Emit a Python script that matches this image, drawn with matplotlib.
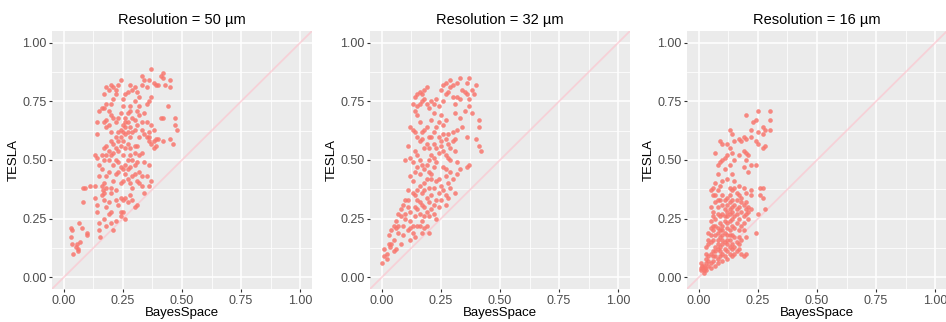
import matplotlib
matplotlib.use("Agg")
import matplotlib.pyplot as plt
import numpy as np

plt.rcParams["font.family"] = ["Liberation Sans", "DejaVu Sans"]

titles = ["Resolution = 50 µm", "Resolution = 32 µm", "Resolution = 16 µm"]
tick_vals = [0.0, 0.25, 0.5, 0.75, 1.0]
tick_labels = ["0.00", "0.25", "0.50", "0.75", "1.00"]

# (BayesSpace, TESLA) pairs
pts_50 = [
    (0.03, 0.21), (0.035, 0.20), (0.03, 0.17), (0.035, 0.14), (0.04, 0.10), (0.05, 0.13),
    (0.055, 0.14), (0.06, 0.12), (0.06, 0.11), (0.07, 0.15), (0.065, 0.23), (0.075, 0.21),
    (0.10, 0.19), (0.10, 0.18), (0.08, 0.32), (0.08, 0.38), (0.09, 0.38), (0.11, 0.39),
    (0.13, 0.39), (0.13, 0.52), (0.14, 0.51), (0.13, 0.34), (0.14, 0.31), (0.14, 0.28),
    (0.15, 0.23), (0.15, 0.20), (0.155, 0.17), (0.16, 0.35), (0.165, 0.37), (0.17, 0.36),
    (0.17, 0.33), (0.18, 0.30), (0.17, 0.25), (0.18, 0.22), (0.19, 0.27), (0.20, 0.23),
    (0.20, 0.28), (0.21, 0.20), (0.19, 0.32), (0.20, 0.36), (0.20, 0.38), (0.22, 0.37),
    (0.21, 0.41), (0.22, 0.44), (0.23, 0.45), (0.22, 0.33), (0.23, 0.31), (0.24, 0.34),
    (0.24, 0.28), (0.25, 0.33), (0.26, 0.34), (0.27, 0.32), (0.28, 0.35), (0.29, 0.38),
    (0.29, 0.33), (0.30, 0.30), (0.31, 0.31), (0.33, 0.39), (0.34, 0.36), (0.36, 0.39),
    (0.35, 0.43), (0.37, 0.41), (0.36, 0.48), (0.34, 0.49), (0.31, 0.56), (0.30, 0.53),
    (0.28, 0.55), (0.27, 0.50), (0.26, 0.48), (0.25, 0.46), (0.26, 0.44), (0.27, 0.42),
    (0.28, 0.40), (0.25, 0.41), (0.24, 0.40), (0.29, 0.43), (0.30, 0.44), (0.32, 0.45),
    (0.33, 0.43), (0.14, 0.61), (0.14, 0.66), (0.15, 0.71), (0.16, 0.72), (0.17, 0.72),
    (0.18, 0.74), (0.17, 0.78), (0.18, 0.81), (0.19, 0.80), (0.20, 0.82), (0.21, 0.81),
    (0.22, 0.80), (0.23, 0.82), (0.24, 0.84), (0.22, 0.78), (0.21, 0.76), (0.20, 0.74),
    (0.19, 0.71), (0.20, 0.69), (0.18, 0.67), (0.17, 0.66), (0.18, 0.64), (0.19, 0.65),
    (0.20, 0.62), (0.20, 0.58), (0.18, 0.56), (0.17, 0.55), (0.16, 0.52), (0.15, 0.48),
    (0.16, 0.46), (0.17, 0.50), (0.18, 0.52), (0.19, 0.54), (0.21, 0.57), (0.22, 0.55),
    (0.22, 0.60), (0.23, 0.62), (0.24, 0.63), (0.25, 0.62), (0.26, 0.61), (0.26, 0.64),
    (0.27, 0.62), (0.28, 0.60), (0.25, 0.58), (0.24, 0.56), (0.23, 0.54), (0.25, 0.52),
    (0.26, 0.55), (0.27, 0.57), (0.28, 0.52), (0.29, 0.50), (0.30, 0.56), (0.30, 0.63),
    (0.31, 0.65), (0.30, 0.67), (0.29, 0.68), (0.32, 0.69), (0.31, 0.71), (0.28, 0.71),
    (0.28, 0.73), (0.26, 0.78), (0.27, 0.79), (0.28, 0.82), (0.29, 0.80), (0.30, 0.81),
    (0.31, 0.79), (0.32, 0.77), (0.33, 0.82), (0.33, 0.86), (0.34, 0.84), (0.35, 0.81),
    (0.36, 0.84), (0.37, 0.89), (0.36, 0.75), (0.37, 0.77), (0.35, 0.74), (0.38, 0.83),
    (0.39, 0.82), (0.40, 0.82), (0.41, 0.86), (0.42, 0.87), (0.42, 0.85), (0.43, 0.82),
    (0.45, 0.84), (0.45, 0.81), (0.44, 0.73), (0.42, 0.68), (0.41, 0.68), (0.38, 0.63),
    (0.37, 0.65), (0.36, 0.62), (0.35, 0.60), (0.34, 0.61), (0.33, 0.63), (0.33, 0.66),
    (0.32, 0.60), (0.36, 0.58), (0.37, 0.57), (0.38, 0.58), (0.39, 0.59), (0.40, 0.59),
    (0.42, 0.58), (0.39, 0.56), (0.38, 0.55), (0.46, 0.57), (0.45, 0.59), (0.47, 0.68),
    (0.47, 0.65), (0.48, 0.63), (0.25, 0.73), (0.25, 0.76), (0.24, 0.70), (0.23, 0.68),
    (0.22, 0.66), (0.21, 0.68), (0.26, 0.68), (0.27, 0.70), (0.30, 0.75), (0.32, 0.73),
    (0.34, 0.70), (0.35, 0.66), (0.36, 0.60), (0.30, 0.48), (0.31, 0.49), (0.32, 0.52),
    (0.33, 0.53), (0.31, 0.41), (0.32, 0.40), (0.21, 0.48), (0.22, 0.50), (0.23, 0.49),
    (0.24, 0.47), (0.27, 0.46), (0.28, 0.47), (0.16, 0.39), (0.17, 0.40), (0.18, 0.43),
    (0.19, 0.45), (0.18, 0.38), (0.15, 0.43), (0.24, 0.26), (0.25, 0.28), (0.26, 0.25),
    (0.22, 0.24), (0.19, 0.50), (0.20, 0.52), (0.21, 0.53), (0.28, 0.64), (0.29, 0.62),
    (0.23, 0.58), (0.24, 0.60), (0.25, 0.65), (0.26, 0.66), (0.27, 0.66),
]

pts_32 = [
    (0.00, 0.06), (0.01, 0.09), (0.01, 0.12), (0.02, 0.10), (0.02, 0.08), (0.03, 0.14),
    (0.035, 0.13), (0.04, 0.14), (0.05, 0.11), (0.05, 0.16), (0.06, 0.21), (0.07, 0.19),
    (0.06, 0.12), (0.08, 0.14), (0.09, 0.18), (0.09, 0.22), (0.10, 0.25), (0.10, 0.27),
    (0.08, 0.26), (0.07, 0.27), (0.11, 0.30), (0.10, 0.33), (0.12, 0.28), (0.12, 0.24),
    (0.13, 0.22), (0.13, 0.19), (0.12, 0.16), (0.14, 0.26), (0.14, 0.30), (0.15, 0.33),
    (0.15, 0.29), (0.16, 0.27), (0.16, 0.22), (0.17, 0.24), (0.17, 0.19), (0.18, 0.26),
    (0.18, 0.30), (0.19, 0.28), (0.20, 0.26), (0.21, 0.29), (0.20, 0.32), (0.22, 0.31),
    (0.23, 0.33), (0.24, 0.30), (0.19, 0.34), (0.17, 0.36), (0.16, 0.39), (0.18, 0.40),
    (0.20, 0.38), (0.21, 0.42), (0.22, 0.38), (0.24, 0.36), (0.25, 0.39), (0.26, 0.37),
    (0.28, 0.40), (0.27, 0.43), (0.29, 0.45), (0.30, 0.42), (0.32, 0.44), (0.33, 0.46),
    (0.28, 0.34), (0.20, 0.19), (0.13, 0.41), (0.12, 0.43), (0.11, 0.37), (0.13, 0.36),
    (0.14, 0.45), (0.15, 0.47), (0.13, 0.49), (0.12, 0.51), (0.14, 0.54), (0.15, 0.52),
    (0.16, 0.50), (0.17, 0.48), (0.18, 0.46), (0.19, 0.48), (0.20, 0.50), (0.21, 0.52),
    (0.22, 0.51), (0.20, 0.55), (0.19, 0.57), (0.18, 0.55), (0.17, 0.59), (0.16, 0.58),
    (0.15, 0.60), (0.14, 0.62), (0.13, 0.63), (0.12, 0.64), (0.11, 0.56), (0.10, 0.50),
    (0.16, 0.44), (0.22, 0.47), (0.23, 0.49), (0.24, 0.53), (0.25, 0.56), (0.26, 0.54),
    (0.27, 0.52), (0.28, 0.51), (0.29, 0.55), (0.30, 0.58), (0.31, 0.54), (0.32, 0.49),
    (0.29, 0.50), (0.21, 0.60), (0.22, 0.62), (0.23, 0.64), (0.24, 0.60), (0.25, 0.58),
    (0.27, 0.59), (0.28, 0.61), (0.30, 0.62), (0.32, 0.63), (0.34, 0.64), (0.36, 0.60),
    (0.40, 0.59), (0.41, 0.56), (0.42, 0.54), (0.37, 0.48), (0.36, 0.47), (0.41, 0.67),
    (0.41, 0.64), (0.27, 0.67), (0.25, 0.69), (0.22, 0.70), (0.21, 0.67), (0.20, 0.72),
    (0.19, 0.74), (0.18, 0.76), (0.17, 0.75), (0.16, 0.74), (0.15, 0.73), (0.14, 0.71),
    (0.13, 0.74), (0.14, 0.77), (0.15, 0.78), (0.16, 0.79), (0.17, 0.78), (0.18, 0.80),
    (0.19, 0.81), (0.15, 0.69), (0.16, 0.66), (0.21, 0.75), (0.22, 0.74), (0.23, 0.76),
    (0.24, 0.73), (0.26, 0.75), (0.27, 0.78), (0.28, 0.79), (0.29, 0.81), (0.30, 0.77),
    (0.31, 0.74), (0.32, 0.77), (0.33, 0.76), (0.34, 0.80), (0.35, 0.79), (0.36, 0.78),
    (0.37, 0.76), (0.38, 0.80), (0.39, 0.78), (0.40, 0.82), (0.36, 0.83), (0.37, 0.85),
    (0.33, 0.85), (0.32, 0.83), (0.30, 0.82), (0.29, 0.84), (0.27, 0.83), (0.26, 0.82),
    (0.25, 0.80), (0.31, 0.70), (0.33, 0.68), (0.35, 0.71), (0.37, 0.73), (0.38, 0.70),
    (0.26, 0.65), (0.24, 0.66), (0.19, 0.64), (0.18, 0.63), (0.17, 0.62), (0.20, 0.45),
    (0.21, 0.44), (0.23, 0.41), (0.24, 0.42), (0.26, 0.47), (0.27, 0.46), (0.19, 0.42),
    (0.18, 0.37), (0.15, 0.37), (0.14, 0.35), (0.11, 0.33), (0.09, 0.31), (0.08, 0.29),
    (0.06, 0.24), (0.05, 0.22), (0.04, 0.20), (0.03, 0.18), (0.07, 0.22), (0.11, 0.20),
    (0.12, 0.21), (0.14, 0.17), (0.15, 0.22), (0.16, 0.32), (0.17, 0.31), (0.22, 0.27),
    (0.23, 0.25), (0.19, 0.22), (0.18, 0.21), (0.27, 0.35), (0.29, 0.38), (0.31, 0.36),
    (0.27, 0.31), (0.25, 0.33), (0.21, 0.35), (0.22, 0.57), (0.23, 0.55), (0.20, 0.60),
    (0.26, 0.61), (0.28, 0.57), (0.31, 0.59),
]

pts_16 = [
    (0.25, 0.71), (0.30, 0.71), (0.20, 0.69), (0.23, 0.66), (0.24, 0.67), (0.30, 0.67),
    (0.27, 0.64), (0.28, 0.63), (0.30, 0.63), (0.25, 0.62), (0.27, 0.61), (0.22, 0.63),
    (0.13, 0.63), (0.14, 0.61), (0.15, 0.58), (0.12, 0.57), (0.09, 0.58), (0.10, 0.57),
    (0.17, 0.59), (0.19, 0.60), (0.18, 0.58), (0.20, 0.59), (0.22, 0.60), (0.24, 0.58),
    (0.25, 0.57), (0.27, 0.55), (0.28, 0.56), (0.13, 0.55), (0.14, 0.53), (0.12, 0.52),
    (0.11, 0.51), (0.10, 0.50), (0.09, 0.49), (0.08, 0.48), (0.07, 0.53), (0.11, 0.46),
    (0.13, 0.48), (0.15, 0.50), (0.17, 0.52), (0.19, 0.54), (0.20, 0.53), (0.21, 0.52),
    (0.20, 0.50), (0.19, 0.47), (0.22, 0.48), (0.24, 0.48), (0.21, 0.45), (0.14, 0.44),
    (0.12, 0.42), (0.08, 0.44), (0.07, 0.40), (0.06, 0.38), (0.05, 0.37), (0.06, 0.35),
    (0.08, 0.37), (0.09, 0.39), (0.10, 0.41), (0.13, 0.38), (0.14, 0.37), (0.15, 0.38),
    (0.16, 0.36), (0.17, 0.39), (0.15, 0.41), (0.19, 0.38), (0.20, 0.36), (0.22, 0.37),
    (0.22, 0.35), (0.26, 0.38), (0.27, 0.38), (0.26, 0.35), (0.27, 0.34), (0.28, 0.29),
    (0.25, 0.27), (0.24, 0.19), (0.20, 0.17), (0.05, 0.30), (0.06, 0.28), (0.07, 0.32),
    (0.08, 0.30), (0.09, 0.33), (0.10, 0.31), (0.11, 0.33), (0.12, 0.31), (0.13, 0.32),
    (0.14, 0.30), (0.15, 0.31), (0.16, 0.33), (0.17, 0.30), (0.18, 0.32), (0.19, 0.31),
    (0.20, 0.32), (0.21, 0.30), (0.22, 0.29), (0.11, 0.29), (0.12, 0.28), (0.13, 0.27),
    (0.14, 0.28), (0.10, 0.27), (0.09, 0.26), (0.08, 0.27), (0.07, 0.25), (0.06, 0.26),
    (0.05, 0.24), (0.15, 0.26), (0.16, 0.27), (0.17, 0.25), (0.18, 0.28), (0.19, 0.26),
    (0.20, 0.27), (0.21, 0.25), (0.11, 0.24), (0.12, 0.23), (0.13, 0.24), (0.14, 0.22),
    (0.10, 0.22), (0.09, 0.23), (0.08, 0.21), (0.07, 0.22), (0.06, 0.20), (0.05, 0.18),
    (0.05, 0.21), (0.04, 0.19), (0.15, 0.21), (0.16, 0.23), (0.17, 0.20), (0.18, 0.22),
    (0.19, 0.23), (0.11, 0.19), (0.12, 0.18), (0.13, 0.20), (0.14, 0.18), (0.10, 0.18),
    (0.09, 0.17), (0.08, 0.16), (0.07, 0.18), (0.06, 0.16), (0.05, 0.15), (0.04, 0.14),
    (0.03, 0.13), (0.15, 0.17), (0.16, 0.15), (0.11, 0.15), (0.12, 0.14), (0.13, 0.16),
    (0.14, 0.14), (0.10, 0.14), (0.09, 0.13), (0.08, 0.12), (0.07, 0.13), (0.06, 0.11),
    (0.05, 0.10), (0.04, 0.09), (0.03, 0.10), (0.11, 0.12), (0.12, 0.11), (0.13, 0.13),
    (0.14, 0.12), (0.15, 0.13), (0.16, 0.11), (0.17, 0.12), (0.18, 0.10), (0.19, 0.09),
    (0.20, 0.10), (0.10, 0.10), (0.09, 0.09), (0.08, 0.08), (0.07, 0.09), (0.06, 0.07),
    (0.05, 0.06), (0.04, 0.07), (0.03, 0.06), (0.02, 0.05), (0.01, 0.04), (0.01, 0.03),
    (0.02, 0.03), (0.015, 0.05), (0.025, 0.04), (0.03, 0.03), (0.02, 0.02), (0.01, 0.06),
    (0.04, 0.05), (0.05, 0.04), (0.07, 0.05), (0.08, 0.06), (0.10, 0.07), (0.12, 0.08),
    (0.09, 0.11), (0.11, 0.09), (0.13, 0.10), (0.14, 0.09), (0.15, 0.10), (0.17, 0.14),
    (0.18, 0.16), (0.10, 0.20), (0.12, 0.21), (0.14, 0.25), (0.16, 0.29), (0.18, 0.34),
    (0.13, 0.35), (0.10, 0.35), (0.07, 0.35), (0.08, 0.33), (0.06, 0.22), (0.04, 0.16),
    (0.03, 0.08), (0.06, 0.09), (0.07, 0.11), (0.08, 0.14), (0.10, 0.16), (0.12, 0.16),
    (0.13, 0.18), (0.09, 0.20), (0.08, 0.19), (0.11, 0.26), (0.12, 0.26), (0.13, 0.29),
    (0.14, 0.33), (0.12, 0.34), (0.17, 0.35), (0.20, 0.29), (0.21, 0.28), (0.19, 0.20),
    (0.17, 0.17),
]

panels = [pts_50, pts_32, pts_16]

fig = plt.figure(figsize=(9.46, 3.22), dpi=100)
lefts = [52, 370, 687]
for i, pts in enumerate(panels):
    ax = fig.add_axes([lefts[i] / 946, 1 - 289 / 322, 260 / 946, 258 / 322])
    ax.set_facecolor("#EBEBEB")
    for s in ax.spines.values():
        s.set_visible(False)
    ax.set_xlim(-0.05, 1.05)
    ax.set_ylim(-0.05, 1.05)
    ax.set_xticks(tick_vals)
    ax.set_xticklabels(tick_labels)
    ax.set_yticks(tick_vals)
    ax.set_yticklabels(tick_labels)
    ax.set_xticks([0.125, 0.375, 0.625, 0.875], minor=True)
    ax.set_yticks([0.125, 0.375, 0.625, 0.875], minor=True)
    ax.grid(which="major", color="white", lw=1.1)
    ax.grid(which="minor", color="white", lw=0.55)
    ax.set_axisbelow(True)
    ax.tick_params(which="major", length=2.5, width=0.8, color="#333333",
                   labelcolor="#4D4D4D", labelsize=9, pad=1.5)
    ax.tick_params(which="minor", length=0)
    ax.plot([-0.05, 1.05], [-0.05, 1.05], color="#FFC0CB", lw=1.3, alpha=0.6, zorder=1)
    xs = [p[0] for p in pts]
    ys = [p[1] for p in pts]
    ax.scatter(xs, ys, s=11, color="#F8766D", alpha=0.85, linewidths=0, zorder=2)
    ax.set_title(titles[i], fontsize=10.5, pad=5)
    ax.set_xlabel("BayesSpace", fontsize=9.5, labelpad=0)
    ax.set_ylabel("TESLA", fontsize=9.5, labelpad=2)

fig.savefig("out.png", dpi=100)
